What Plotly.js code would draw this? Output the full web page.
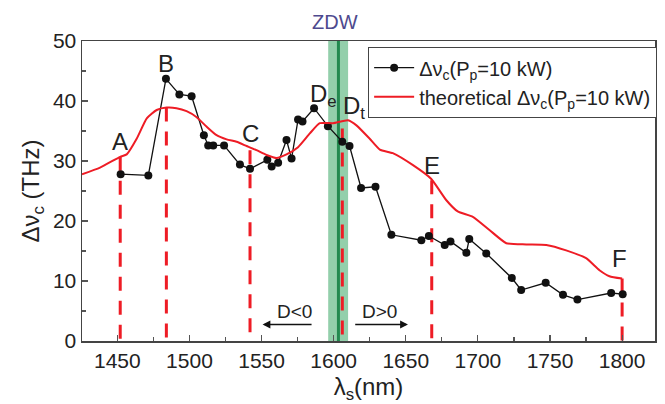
<!DOCTYPE html>
<html>
<head>
<meta charset="utf-8">
<script src="https://cdn.plot.ly/plotly-3.0.1.min.js"></script>
<style>html,body{margin:0;padding:0;background:#fff;}#chart{width:665px;height:404px;}</style>
</head>
<body>
<div id="chart"></div>
<script>
// Measured broadening Δν_c (THz) vs signal wavelength λ_s (nm)
var measLambda = [1452.3, 1471.5, 1483.7, 1493, 1501.5, 1510, 1513, 1516.5, 1524, 1535, 1542, 1554, 1557, 1561.5, 1567.3, 1570.8, 1575.3, 1578.4, 1586.4, 1596, 1606, 1611, 1619, 1629, 1640, 1660.8, 1666, 1677, 1681, 1692, 1694, 1705.8, 1723.5, 1730, 1747, 1759, 1769, 1792.4, 1800.4];
var measDnu    = [27.8, 27.6, 43.7, 41.1, 40.8, 34.3, 32.6, 32.6, 32.6, 29.4, 28.7, 30.2, 29.1, 29.7, 33.5, 30.4, 36.9, 36.6, 38.8, 35.8, 33.2, 32.5, 25.5, 25.7, 17.7, 16.8, 17.5, 16.0, 16.6, 14.7, 17.0, 14.6, 10.5, 8.5, 9.7, 7.7, 6.9, 8.0, 7.8];

// Theoretical Δν_c
var theoLambda = [1425.5, 1438, 1452, 1456.5, 1463.4, 1470.4, 1477.3, 1484.2, 1491, 1498, 1505, 1512, 1518.8, 1525.8, 1532.7, 1539.6, 1546.5, 1553.5, 1560.4, 1567.3, 1575.3, 1583.5, 1590.4, 1599.6, 1610, 1616, 1625, 1632, 1641, 1655, 1667.7, 1678, 1686, 1696.5, 1708, 1719.7, 1733.5, 1747.4, 1761.2, 1775, 1784.3, 1791.2, 1800];
var theoDnu    = [27.8, 28.9, 30.7, 31.1, 33.7, 37.1, 38.5, 38.9, 38.8, 38.3, 37.3, 35.7, 34.3, 33.6, 33.2, 32.5, 31.8, 31.0, 30.5, 31.1, 32.3, 34.6, 36.3, 36.3, 36.8, 35.9, 33.7, 31.9, 31.3, 29.3, 27.0, 23.5, 21.6, 20.7, 18.5, 16.3, 16.1, 16.0, 15.1, 13.8, 11.8, 10.8, 10.4];

// Marked wavelengths (dashed drop lines) and their top values
var markNames  = ["A", "B", "C", "Dt", "E", "F"];
var markLambda = [1452, 1484, 1542, 1606, 1668, 1800];
var markTop    = [30.7, 38.9, 31.8, 35.4, 26.8, 10.4];

// Zero-dispersion wavelength and band
var zdwLambda = 1603.3;
var zdwBand = [1596.2, 1610];

// Axis ticks
var xTicks = [1450, 1500, 1550, 1600, 1650, 1700, 1750, 1800];
var yTicks = [0, 10, 20, 30, 40, 50];

var FONT = "Liberation Sans, Arial, Helvetica, sans-serif";
var RED = "#ee1c25";

var traces = [];
markLambda.forEach(function (lx, i) {
  traces.push({
    x: [lx, lx], y: [markTop[i], 0], mode: "lines", type: "scatter",
    line: {color: RED, width: 3, dash: "14px,10px"},
    showlegend: false, hoverinfo: "skip"
  });
});
traces.push({
  x: measLambda, y: measDnu, type: "scatter", mode: "lines+markers",
  name: "Δν<sub>c</sub>(P<sub>p</sub>=10 kW)",
  line: {color: "#111", width: 1.3},
  marker: {color: "#111", size: 8}
});
traces.push({
  x: theoLambda, y: theoDnu, type: "scatter", mode: "lines",
  name: "theoretical Δν<sub>c</sub>(P<sub>p</sub>=10 kW)",
  line: {color: RED, width: 2, shape: "spline", smoothing: 0.5}
});

var labelText = ["A", "B", "C", "D<sub>e</sub>", "D<sub>t</sub>", "E", "F"];
var labelX = [1451.9, 1483.7, 1542.6, 1582.1, 1605.3, 1668.4, 1798.1];
var labelY = [33.2, 46.2, 34.6, 40.95, 39.0, 29.3, 13.8];
var labelAnchor = ["center", "center", "center", "left", "left", "center", "center"];

var annotations = labelText.map(function (t, i) {
  return {x: labelX[i], y: labelY[i], xref: "x", yref: "y", text: t, showarrow: false,
    xanchor: labelAnchor[i], yanchor: "middle", font: {family: FONT, size: 24, color: "#222"}};
});
annotations.push({x: 1573, y: 4.9, xref: "x", yref: "y", text: "D&lt;0", showarrow: false,
  font: {family: FONT, size: 19, color: "#222"}});
annotations.push({x: 1632, y: 4.9, xref: "x", yref: "y", text: "D&gt;0", showarrow: false,
  font: {family: FONT, size: 19, color: "#222"}});
annotations.push({x: 1550.7, y: 2.75, ax: 1585.7, ay: 2.75, xref: "x", yref: "y", axref: "x", ayref: "y",
  text: "", showarrow: true, arrowhead: 2, arrowsize: 1.2, arrowwidth: 1.3, arrowcolor: "#111"});
annotations.push({x: 1651.5, y: 2.75, ax: 1613.9, ay: 2.75, xref: "x", yref: "y", axref: "x", ayref: "y",
  text: "", showarrow: true, arrowhead: 2, arrowsize: 1.2, arrowwidth: 1.3, arrowcolor: "#111"});
annotations.push({x: 1600.8, y: 1.063, xref: "x", yref: "paper", text: "ZDW", showarrow: false,
  yanchor: "middle", font: {family: FONT, size: 20, color: "#4e4a8e"}});

var shapes = [
  {type: "rect", xref: "x", yref: "paper", x0: zdwBand[0], x1: zdwBand[1], y0: 0, y1: 1,
    fillcolor: "rgba(120,195,150,0.8)", line: {width: 0}, layer: "below"},
  {type: "line", xref: "x", yref: "paper", x0: zdwLambda, x1: zdwLambda, y0: 0, y1: 1,
    line: {color: "#23894f", width: 3}, layer: "below"}
];

var axisCommon = {
  showline: true, linecolor: "#444", linewidth: 1.5, mirror: true,
  ticks: "inside", ticklen: 6, tickwidth: 1.2, tickcolor: "#555",
  showgrid: false, zeroline: false,
  tickfont: {family: FONT, size: 21, color: "#222"}
};

var layout = {
  width: 665, height: 404,
  margin: {l: 82, r: 8, t: 41, b: 63},
  paper_bgcolor: "#fff", plot_bgcolor: "#fff",
  font: {family: FONT, color: "#222"},
  xaxis: Object.assign({}, axisCommon, {
    range: [1425.5, 1822.8], tickvals: xTicks,
    minor: {dtick: 25, tick0: 1425, ticks: "inside", ticklen: 4, tickcolor: "#555"},
    title: {text: "λ<sub>s</sub>(nm)", font: {family: FONT, size: 24, color: "#222"}, standoff: 15}
  }),
  yaxis: Object.assign({}, axisCommon, {
    range: [0, 50], tickvals: yTicks,
    minor: {dtick: 5, ticks: "inside", ticklen: 4, tickcolor: "#555"},
    title: {text: "Δν<sub>c</sub> (THz)", font: {family: FONT, size: 24, color: "#222"}, standoff: 6}
  }),
  legend: {
    x: 0.499, y: 0.98, xanchor: "left", yanchor: "top",
    bgcolor: "#fff", bordercolor: "#444", borderwidth: 1.2, itemwidth: 40,
    font: {family: FONT, size: 20, color: "#222"}, tracegroupgap: 0
  },
  annotations: annotations,
  shapes: shapes,
  showlegend: true
};

Plotly.newPlot("chart", traces, layout, {displayModeBar: false, staticPlot: true});
</script>
</body>
</html>
